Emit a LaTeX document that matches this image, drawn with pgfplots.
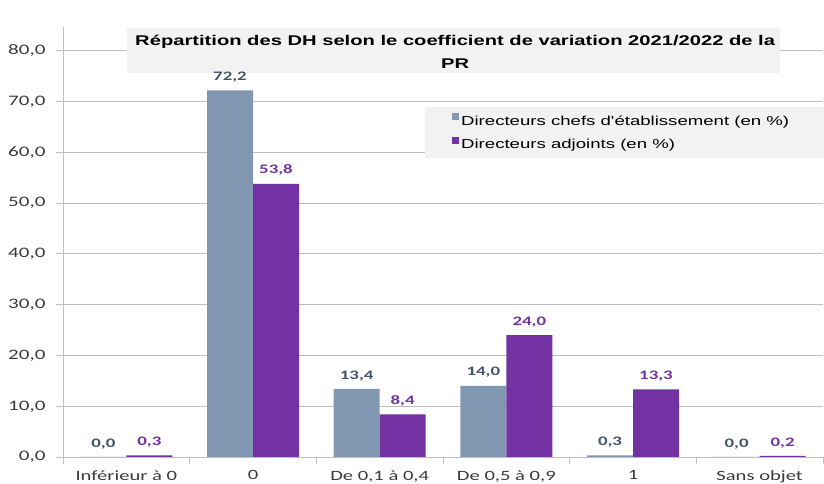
\documentclass[border=0pt]{standalone}
\usepackage{pgfplots}
\pgfplotsset{compat=1.18}
\usepackage{fontspec}
\setmainfont[FakeStretch=1.45]{Carlito}
\newfontfamily\arialfont[FakeStretch=1.43]{Liberation Sans}
\definecolor{cgrey}{HTML}{8196B0}
\definecolor{cpurple}{HTML}{7332A3}
\definecolor{lgrey}{HTML}{44546A}
\definecolor{gridc}{HTML}{BFBFBF}
\definecolor{boxc}{HTML}{F2F2F2}
\definecolor{tickc}{HTML}{3A3A3A}
\begin{document}
\begin{tikzpicture}
\begin{axis}[
  at={(0,0)}, anchor=south west,
  scale only axis, width=760pt, height=430pt,
  xmin=-0.5, xmax=5.5, ymin=0, ymax=84.7,
  ybar=0pt, bar width=46pt,
  axis x line=bottom, axis y line=left,
  axis line style={-, draw=gridc, line width=0.9pt},
  ytick={0,10,...,80},
  xtick={-0.5,0.5,...,5.5},
  x tick label as interval,
  xticklabels={Inférieur à 0, 0, {De 0,1 à 0,4}, {De 0,5 à 0,9}, 1, Sans objet},
  ymajorgrids, grid style={draw=gridc, line width=0.9pt},
  tick align=outside, major tick length=7pt,
  tick style={draw=gridc, line width=0.9pt},
  ticklabel style={color=tickc},
  y tick label style={font=\fontsize{14.5}{16}\selectfont, xshift=-7pt},
  x tick label style={font=\fontsize{14.2}{16}\selectfont, yshift=-3pt},
  /pgf/number format/fixed,
  /pgf/number format/fixed zerofill,
  /pgf/number format/precision=1,
  /pgf/number format/use comma,
  /pgf/number format/assume math mode=true,
  legend style={at={(0.4763,0.814)}, anchor=north west, fill=boxc, draw=none,
    font=\arialfont\fontsize{13}{15}\selectfont, inner xsep=27pt, inner ysep=6pt,
    row sep=8pt, cells={anchor=west}},
]
\addplot[fill=cgrey, draw=none, nodes near coords,
  every node near coord/.append style={font=\bfseries\fontsize{13}{15}\selectfont, color=lgrey, anchor=south, inner sep=0pt, yshift=8pt},
  legend image code/.code={\fill[cgrey] (0pt,1pt) rectangle (7pt,8pt);}]
  coordinates {(0,0.0) (1,72.2) (2,13.4) (3,14.0) (4,0.3) (5,0.0)};
\addplot[fill=cpurple, draw=none, nodes near coords,
  every node near coord/.append style={font=\bfseries\fontsize{13}{15}\selectfont, color=cpurple, anchor=south, inner sep=0pt, yshift=8pt},
  legend image code/.code={\fill[cpurple] (0pt,1pt) rectangle (7pt,8pt);}]
  coordinates {(0,0.3) (1,53.8) (2,8.4) (3,24.0) (4,13.3) (5,0.2)};
\legend{Directeurs chefs d'établissement (en \%)\hspace*{17pt}, Directeurs adjoints (en \%)}
\fill[boxc] (rel axis cs:0.0842,0.893) rectangle (rel axis cs:0.9434,0.998);
\node[font=\arialfont\bfseries\fontsize{14.1}{23}\selectfont, align=center, text=black]
  at (rel axis cs:0.516,0.943) {Répartition des DH selon le coefficient de variation 2021/2022 de la\\PR};
\end{axis}
\pgfresetboundingbox
\path (-63pt,-27pt) rectangle (761pt,457pt);
\end{tikzpicture}
\end{document}
